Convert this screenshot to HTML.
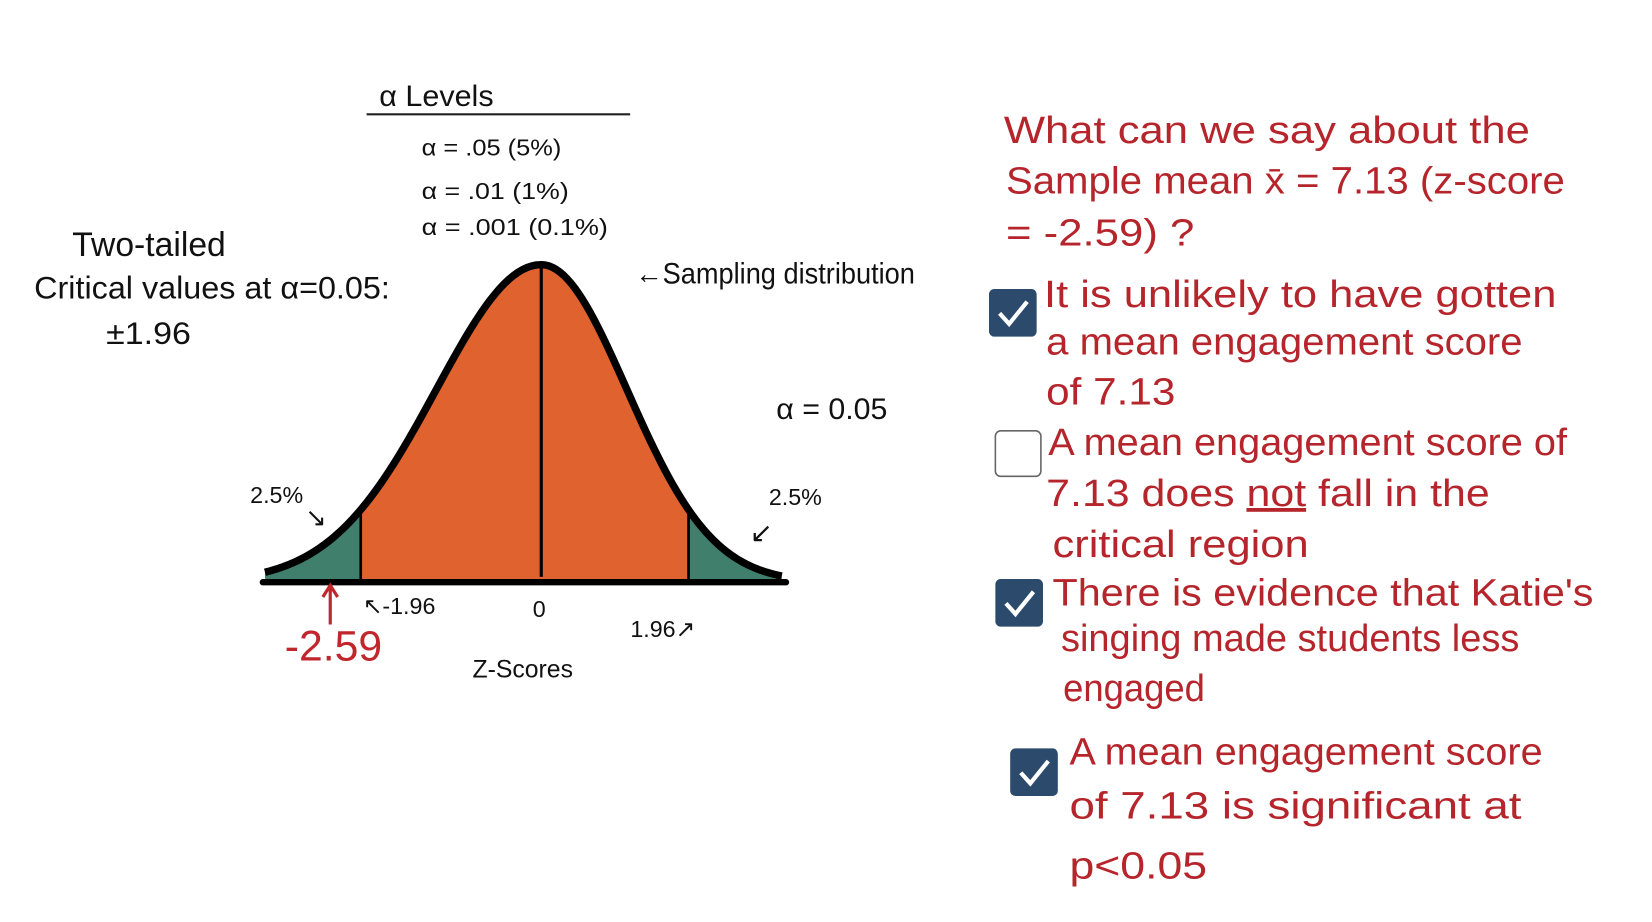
<!DOCTYPE html>
<html><head><meta charset="utf-8"><style>
html,body{margin:0;padding:0;background:#fff;width:1652px;height:922px;overflow:hidden}
svg{display:block}
.k{font-family:"Liberation Sans Narrow","Liberation Sans",sans-serif;fill:#111}
.r{font-family:"Liberation Sans Narrow","Liberation Sans",sans-serif;fill:#b5252b;font-size:36px}
</style></head><body>
<svg id="s" width="1652" height="922" viewBox="0 0 1560 871">
<g id="chart"></g>
<g>
<text class="k" x="358" y="100" font-size="28" textLength="108" lengthAdjust="spacingAndGlyphs">α Levels</text>
<line x1="346" y1="108" x2="595" y2="108" stroke="#222" stroke-width="2"/>
<text class="k" x="398" y="147" font-size="22" textLength="132" lengthAdjust="spacingAndGlyphs">α = .05 (5%)</text>
<text class="k" x="398" y="188" font-size="22" textLength="139" lengthAdjust="spacingAndGlyphs">α = .01 (1%)</text>
<text class="k" x="398" y="222" font-size="22" textLength="176" lengthAdjust="spacingAndGlyphs">α = .001 (0.1%)</text>
</g>
<text class="k" x="68" y="242" font-size="32" textLength="145" lengthAdjust="spacingAndGlyphs">Two-tailed</text>
<text class="k" x="32" y="282" font-size="30" textLength="336" lengthAdjust="spacingAndGlyphs">Critical values at α=0.05:</text>
<text class="k" x="100" y="325" font-size="30" textLength="80" lengthAdjust="spacingAndGlyphs">±1.96</text>
<text class="k" x="600" y="268" font-size="28" textLength="264" lengthAdjust="spacingAndGlyphs">←Sampling distribution</text>
<text class="k" x="733" y="396" font-size="28" textLength="105" lengthAdjust="spacingAndGlyphs">α = 0.05</text>
<text class="k" x="236" y="475" font-size="22">2.5%</text>
<text class="k" x="288" y="497" font-size="24">↘</text>
<text class="k" x="726" y="477" font-size="22">2.5%</text>
<text class="k" x="708" y="512" font-size="26">↙</text>
<text class="k" x="446" y="640" font-size="24" textLength="95" lengthAdjust="spacingAndGlyphs">Z-Scores</text>
<g>
<text class="r" x="948" y="135" textLength="497" lengthAdjust="spacingAndGlyphs">What can we say about the</text>
<text class="r" x="950" y="183" textLength="528" lengthAdjust="spacingAndGlyphs">Sample mean x̄ = 7.13 (z-score</text>
<text class="r" x="950" y="232" textLength="178" lengthAdjust="spacingAndGlyphs">= -2.59) ?</text>
<text class="r" x="986" y="290" textLength="484" lengthAdjust="spacingAndGlyphs">It is unlikely to have gotten</text>
<text class="r" x="988" y="335" textLength="450" lengthAdjust="spacingAndGlyphs">a mean engagement score</text>
<text class="r" x="988" y="382" textLength="122" lengthAdjust="spacingAndGlyphs">of 7.13</text>
<text class="r" x="990" y="430" textLength="490" lengthAdjust="spacingAndGlyphs">A mean engagement score of</text>
<text class="r" x="988" y="478" textLength="419" lengthAdjust="spacingAndGlyphs">7.13 does <tspan text-decoration="underline">not</tspan> fall in the</text>
<text class="r" x="994" y="526" textLength="242" lengthAdjust="spacingAndGlyphs">critical region</text>
<text class="r" x="994" y="572" textLength="511" lengthAdjust="spacingAndGlyphs">There is evidence that Katie's</text>
<text class="r" x="1002" y="615" textLength="433" lengthAdjust="spacingAndGlyphs">singing made students less</text>
<text class="r" x="1004" y="662" textLength="134" lengthAdjust="spacingAndGlyphs">engaged</text>
<text class="r" x="1010" y="722" textLength="447" lengthAdjust="spacingAndGlyphs">A mean engagement score</text>
<text class="r" x="1010" y="773" textLength="427" lengthAdjust="spacingAndGlyphs">of 7.13 is significant at</text>
<text class="r" x="1010" y="830" textLength="130" lengthAdjust="spacingAndGlyphs">p&lt;0.05</text>
<g><rect x="934" y="273" width="45" height="45" rx="5" fill="#2b4a6c"/><path d="M944 296 l9 10 l17 -21" stroke="#fff" stroke-width="4" fill="none"/></g>
<g><rect x="940" y="407" width="43" height="43" rx="5" fill="#fff" stroke="#666" stroke-width="1.5"/></g>
<g><rect x="940" y="547" width="45" height="45" rx="5" fill="#2b4a6c"/><path d="M950 570 l9 10 l17 -21" stroke="#fff" stroke-width="4" fill="none"/></g>
<g><rect x="954" y="707" width="45" height="45" rx="5" fill="#2b4a6c"/><path d="M964 730 l9 10 l17 -21" stroke="#fff" stroke-width="4" fill="none"/></g>
</g>
</svg>
<script>
const critValues=[-1.96,1.96];
const critLabels=["-1.96","1.96"];
const sampleZ=[-2.59];
const sampleLabels=["-2.59"];
const zRange=[-3.0,3.2];
const NS='http://www.w3.org/2000/svg';
const g=document.getElementById('chart');
const cx=511,base=550,peakH=300,sdL=87,sdR=71;
function X(z){return cx+z*(z<0?sdL:sdR);}
function Y(z){return base-peakH*Math.exp(-z*z/2.6);}
function mk(t,a){const e=document.createElementNS(NS,t);for(const k in a)e.setAttribute(k,a[k]);g.appendChild(e);return e;}
function area(z0,z1,fill,name){let d='M'+X(z0)+' '+base;for(let z=z0;z<=z1+1e-9;z+=0.05)d+=' L'+X(z)+' '+Y(z);d+=' L'+X(z1)+' '+Y(z1)+' L'+X(z1)+' '+base+' Z';const p=mk('path',{d:d,fill:fill});

}
area(zRange[0],critValues[0],'#3f7f6c','left-rejection-region');
area(critValues[0],critValues[1],'#e0622f','acceptance-region');
area(critValues[1],zRange[1],'#3f7f6c','right-rejection-region');
let d='';for(let z=zRange[0];z<=zRange[1]+1e-9;z+=0.05)d+=(d?' L':'M')+X(z)+' '+Y(z);
const c=mk('path',{d:d,fill:'none',stroke:'#000','stroke-width':7,'stroke-linejoin':'round'});


const ax=mk('line',{x1:X(zRange[0])-2,y1:base,x2:X(zRange[1])+4,y2:base,stroke:'#000','stroke-width':6,'stroke-linecap':'round'});


const ml=mk('line',{x1:X(0),y1:Y(0),x2:X(0),y2:base-5,stroke:'#000','stroke-width':3});


critValues.forEach((v,i)=>{const l=mk('line',{x1:X(v),y1:Y(v),x2:X(v),y2:base,stroke:'#000','stroke-width':2.5});


const t=mk('text',{x:v<0?X(v)+2:X(v)-55,y:v<0?base+30:base+52,'font-size':22,class:'k'});t.textContent=(v<0?'↖':'')+critLabels[i]+(v>0?'↗':'');

});
const z0=mk('text',{x:X(0)-8,y:base+33,'font-size':22,class:'k'});z0.textContent='0';


sampleZ.forEach((v,i)=>{const sx=X(v)+26;const a=mk('path',{d:'M'+sx+' '+(base+40)+' L'+sx+' '+(base+4)+' M'+(sx-7)+' '+(base+14)+' L'+sx+' '+(base+3)+' L'+(sx+7)+' '+(base+14),stroke:'#c0262c','stroke-width':3,fill:'none'});


const t=mk('text',{x:sx-43,y:base+74,'font-size':40,fill:'#c0262c','font-family':'Liberation Sans Narrow, Liberation Sans, sans-serif',textLength:92,lengthAdjust:'spacingAndGlyphs'});t.textContent=sampleLabels[i];

});
</script>
</body></html>
